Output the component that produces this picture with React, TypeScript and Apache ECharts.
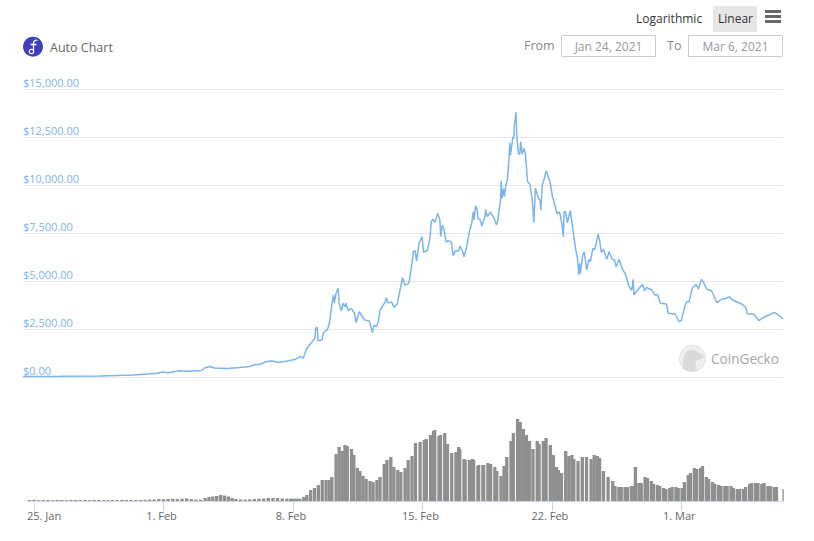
import React, { useEffect, useRef } from "react";
import * as echarts from "echarts";

// [hours since 25 Jan 2021 00:00, price in USD]
const priceLaunch = [[-7,40],[41,50],[92,70],[135,120],[166,210],[173,275],[180,240],[195,345],[204,310],[223,355],[227,485],[234,560],[239,485],[256,460],[272,510],[285,560],[292,665],[298,665],[307,825],[314,850],[322,770],[333,850],[343,925],[350,1080],[354,1005]];
const priceFirstWave = [[358,1460],[363,1735],[369,2030],[370,2580],[372,2580],[373,1905],[378,1940],[380,2345],[385,2465],[388,2895],[391,3855],[393,4285],[394,3870],[396,4340],[399,4635],[400,3855],[403,3455],[405,3855],[408,3675],[409,3855],[412,3470],[416,3595],[420,3335],[422,2845],[426,3415],[433,2985],[439,2930],[443,2325],[445,2725],[448,2635],[450,2810],[453,3505],[459,3885],[461,4145],[463,3885],[468,3905],[471,3645],[475,3815]];
const priceSecondWave = [[479,4635],[482,5185],[485,4805],[490,4895],[494,5935],[496,6580],[498,6595],[500,6055],[503,6980],[507,7320],[509,6510],[514,6630],[517,7240],[519,8105],[521,8230],[524,8070],[527,8540],[530,8190],[531,7320],[533,7930],[535,7760],[538,7060],[541,7115],[545,7030],[547,6330],[550,6595],[554,6580],[556,6840],[560,6460],[561,6280],[564,6720],[568,7585],[571,8020],[573,8625],[574,8190],[576,8935],[578,8715],[579,8280],[582,8190],[584,7880],[588,8365],[589,8750],[591,8365],[595,8595],[599,8365],[603,7930],[605,8280],[606,8625]];
const pricePeak = [[608,9145],[609,10225],[610,9320],[612,9845],[613,9405],[615,10015],[617,10275],[619,11405],[620,12220],[621,11575],[624,12530],[625,12445],[626,13140],[628,13800],[629,12620],[631,11665],[633,11615],[634,12270],[636,11615],[638,11925],[640,11665],[643,10185],[646,10050],[649,9235],[651,8070],[653,9845],[657,9320],[659,9235],[660,8715],[662,10050],[664,10275],[667,10745],[670,10395],[672,10155],[675,9405],[677,9145]];
const priceDecline = [[681,8505],[684,8625],[687,8020],[689,7320],[690,8625],[692,8625],[694,8050],[698,8675],[702,7500],[705,6630],[707,6280],[709,5330],[710,5935],[711,5415],[714,6370],[716,6540],[719,5590],[722,6145],[724,6020],[727,6720],[729,6630],[731,6890],[734,7465],[736,7060],[738,6490],[741,6665],[745,6145],[748,6540],[752,6145],[755,6110],[757,5760],[761,6145],[765,5640],[769,5380],[773,4805],[777,4510],[779,5105],[780,4285],[784,4510],[791,4845],[794,4510],[796,4685],[803,4545],[807,4285],[810,4320],[814,3855],[822,3815],[824,3335]];
const priceTail = [[833,3295],[838,2895],[841,2950],[846,3765],[848,3935],[851,3935],[855,4635],[860,4845],[863,4600],[867,5105],[869,4980],[874,4585],[880,4510],[887,3885],[893,4080],[899,4115],[903,4200],[907,4025],[919,3815],[924,3645],[926,3295],[934,3295],[941,2950],[947,3125],[954,3245],[961,3385],[966,3245],[972,3035]];

// [hours since 25 Jan 2021 00:00, volume in arbitrary units]
const volumeLaunch = [[-6,1],[0,1.2],[6,0.8],[12,1],[18,1],[24,0.8],[30,1],[36,1],[42,0.8],[48,1],[54,1],[60,0.8],[66,1],[72,0.8],[78,1],[84,1],[90,0.8],[96,1],[102,1],[108,0.9],[114,1],[120,1],[126,1],[132,1],[138,1],[144,1.2],[150,1.4],[156,1.5],[162,2],[168,1.8],[174,2],[180,2.2],[186,2],[192,2.4],[198,2.6],[204,2],[210,1.5],[216,1.3],[222,3],[227,4],[232,4.5],[237,5],[242,6],[247,5.5],[252,4.5],[257,3],[262,2],[268,1.5],[274,1.5],[280,1.7],[286,2],[292,2.2],[298,2.5],[304,3],[310,3],[316,3],[322,2.6],[328,2.4],[333,2.3]];
const volumeFirstWave = [[337,2.3],[341,2.3],[345,2.3],[350,4],[354,6],[359,11],[364,13],[369,16],[374,21],[379,21],[383.5,21],[386.5,24],[392,47],[396,54],[400,50],[403.5,56],[406.5,55],[412,52],[415,46],[419.5,33],[423,30],[427,25],[431,22],[436,20],[440,19],[445,21],[449,24],[454.5,37],[458,41],[463,44],[467,34],[472,31],[476,29],[481.5,33],[485.5,41],[490.5,45],[495,58]];
const volumeSecondWave = [[501,59],[506.5,61],[509,62],[514.5,66],[518.5,70],[520,71],[525.5,65],[527.5,66],[533,68],[536.5,57],[542,48],[547.5,49],[551,54],[552.5,52],[558,42],[559.5,41],[565,41],[569,42],[570.5,41],[576,35],[577,36],[582.5,36],[583.5,36],[589,38],[592.5,37],[598,34],[600.5,30],[606,25],[610,35],[613.5,44]];
const volumePeak = [[619,60],[622,68],[627.5,82],[631,79],[635,72],[639,66],[643,60],[647.5,52],[653,60],[655.5,57],[661,60],[664.5,63],[670,56],[674,46],[678,34],[680.5,31],[684.5,28],[690,50],[694,45],[698,46],[700.5,42],[706,40],[711.5,44],[717,44],[723,42],[727,46],[731,45],[734,43],[739,30],[745,24]];
const volumeTail = [[751,20],[754,15],[759,14],[762,14],[767,14],[770,14],[775,15],[778,15],[780.5,34],[785,18],[788,18],[793,24],[796,23],[801,20],[804,17],[809,16],[812,15],[817,13],[820,12],[825,13],[828,14],[833,14],[836,13],[841,13],[844,19],[849,26],[852,28],[857,33],[860,32],[865,33],[867.5,35],[872.5,24],[875.5,22],[880.5,19],[883.5,17],[888.5,16],[891.5,15],[896.5,15],[899.5,15],[904.5,15],[907.5,13],[912.5,12],[915.5,12],[920.5,12],[923.5,14],[928.5,17],[931.5,18],[936.5,18],[939.5,18],[944.5,17],[947.5,18],[952.5,15],[955.5,15],[960.5,14],[963.5,14],[973.5,12]];

const tickHours = [0, 168, 336, 504, 672, 840];
const tickLabels = ["25. Jan", "1. Feb", "8. Feb", "15. Feb", "22. Feb", "1. Mar"];
const FONT = "'Open Sans', sans-serif";

echarts.graphic.registerShape("fGlyph", echarts.graphic.extendPath("M37.5 40.5 C35 39.5 33.5 41 33.5 43.5 L33.5 51 M30.5 44.5 L36.5 44.5", {}));
echarts.graphic.registerShape("geckoHead", echarts.graphic.extendPath("M683 369 C682 360 684 351 690 350 C694 349 697 351 699 353 C703 354 705 356 703 358 C700 360 697 359 696 361 C695 365 696 368 697 370 C692 372 686 372 683 369 Z", {}));
echarts.graphic.registerShape("menuBars", echarts.graphic.extendPath("M765 10 H781 V13 H765 Z M765 15 H781 V18 H765 Z M765 20 H781 V23 H765 Z", {}));

export default function App() {
  const ref = useRef<HTMLDivElement>(null);
  useEffect(() => {
    const chart = echarts.init(ref.current!, undefined, { renderer: "svg" });
    const txt = (x: number, y: number, text: string, fill: string, fontSize = 12, extra: any = {}) => ({
      type: "text", x, y,
      style: { text, fill, fontSize, fontFamily: FONT, textVerticalAlign: "middle", verticalAlign: "middle", ...extra },
    });
    chart.setOption({
      animation: false,
      backgroundColor: "#ffffff",
      grid: [
        { left: 23, width: 760, top: 89.3, height: 288 },
        { left: 23, width: 760, top: 411, height: 90 },
      ],
      xAxis: [
        { type: "value", gridIndex: 0, min: -7.1, max: 972, show: false, splitLine: { show: false } },
        {
          type: "value", gridIndex: 1, min: -7.1, max: 972,
          splitLine: { show: false },
          axisLine: { show: true, onZero: false, lineStyle: { color: "#ccd6eb", width: 1 } },
          axisTick: { show: true, length: 10, customValues: tickHours, lineStyle: { color: "#ccd6eb", width: 1 } },
          axisLabel: {
            customValues: tickHours,
            margin: 5,
            showMinLabel: true,
            showMaxLabel: true,
            hideOverlap: false,
            color: "#666666",
            fontSize: 11,
            fontFamily: FONT,
            lineHeight: 12,
            formatter: (v: number) => {
              const t = tickLabels[tickHours.indexOf(v)] ?? "";
              return v === 0 ? `{first|${t}}` : t;
            },
            rich: { first: { padding: [0, 0, 0, 24], color: "#666666", fontSize: 11, fontFamily: FONT } },
            padding: [3, 4, 0, 0],
          },
        },
      ],
      yAxis: [
        {
          type: "value", gridIndex: 0, min: 0, max: 15000, interval: 2500,
          axisLine: { show: false }, axisTick: { show: false },
          splitLine: { show: true, lineStyle: { color: "#e6e6e6", width: 1 } },
          axisLabel: {
            inside: true, margin: 0, verticalAlign: "bottom", color: "#7cb5ec", fontSize: 11, fontFamily: FONT,
            padding: [0, 0, 1, 0],
            formatter: (v: number) => "$" + v.toLocaleString("en-US", { minimumFractionDigits: 2, maximumFractionDigits: 2 }),
          },
        },
        { type: "value", gridIndex: 1, min: 0, max: 90, show: false, splitLine: { show: false } },
      ],
      series: [
        {
          type: "bar", xAxisIndex: 1, yAxisIndex: 1, barWidth: 3.3, itemStyle: { color: "#8f8f8f" },
          data: [...volumeLaunch, ...volumeFirstWave, ...volumeSecondWave, ...volumePeak, ...volumeTail],
        },
        {
          type: "line", xAxisIndex: 0, yAxisIndex: 0, showSymbol: false, symbol: "none", smooth: false,
          lineStyle: { color: "#7cb5ec", width: 1.5 },
          data: [...priceLaunch, ...priceFirstWave, ...priceSecondWave, ...pricePeak, ...priceDecline, ...priceTail],
        },
      ],
      graphic: [
        txt(636, 18.5, "Logarithmic", "#333333"),
        { type: "rect", shape: { x: 713, y: 6, width: 44, height: 26 }, style: { fill: "#e6e6e6" } },
        txt(718, 18.5, "Linear", "#333333"),
        { type: "menuBars", style: { fill: "#666666" } },
        { type: "circle", shape: { cx: 33, cy: 46.7, r: 10 }, style: { fill: "#3f3fbd" } },
        { type: "fGlyph", style: { stroke: "#ffffff", lineWidth: 1.3, fill: "none" } },
        { type: "circle", shape: { cx: 31.5, cy: 51.5, r: 2.2 }, style: { stroke: "#ffffff", lineWidth: 1.2, fill: "none" } },
        txt(50, 47, "Auto Chart", "#666666", 12.5),
        txt(524, 45.5, "From", "#888888", 12.5),
        { type: "rect", shape: { x: 561.5, y: 35.5, width: 94, height: 21 }, style: { fill: "#ffffff", stroke: "#cccccc", lineWidth: 1 } },
        txt(608.5, 46, "Jan 24, 2021", "#999999", 12, { align: "center", textAlign: "center" }),
        txt(667, 45.5, "To", "#888888", 12.5),
        { type: "rect", shape: { x: 688.5, y: 35.5, width: 94, height: 21 }, style: { fill: "#ffffff", stroke: "#cccccc", lineWidth: 1 } },
        txt(735.5, 46, "Mar 6, 2021", "#999999", 12, { align: "center", textAlign: "center" }),
        { type: "circle", shape: { cx: 692.5, cy: 358.5, r: 13 }, style: { fill: "#f0f0f0", stroke: "#e0e0e0", lineWidth: 1 } },
        { type: "geckoHead", style: { fill: "#d9d9d9" } },
        txt(711, 358, "CoinGecko", "#a8a8a8", 13.6),
      ],
    });
    return () => chart.dispose();
  }, []);
  return <div ref={ref} style={{ position: "fixed", left: 0, top: 0, width: 814, height: 541 }} />;
}
